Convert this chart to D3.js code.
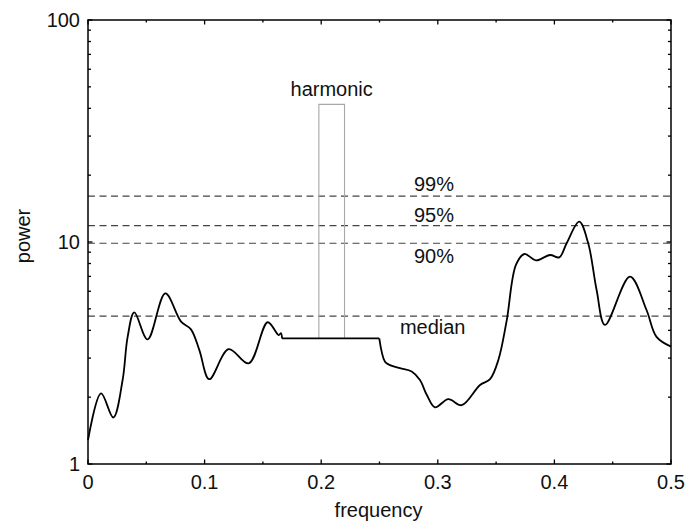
<!DOCTYPE html>
<html>
<head>
<meta charset="utf-8">
<script src="https://cdn.jsdelivr.net/npm/d3@7"></script>
<style>
  body { margin: 0; background: #fff; }
  text { font-family: "Liberation Sans", Arial, sans-serif; fill: #111; }
</style>
</head>
<body>
<svg id="chart"></svg>
<script>
// spectrum
const freq = [0, 0.0112, 0.0217, 0.0297, 0.034, 0.0397, 0.0511, 0.0663, 0.0798, 0.0883, 0.0955,
  0.104, 0.1206, 0.1378, 0.1541, 0.1635, 0.1655, 0.1664, 0.2498, 0.2547, 0.259, 0.2676, 0.2776,
  0.2847, 0.2905, 0.2976, 0.309, 0.3205, 0.3362, 0.3448, 0.352, 0.359, 0.367, 0.3742, 0.3842,
  0.3962, 0.4042, 0.4105, 0.4213, 0.429, 0.4362, 0.4434, 0.4648, 0.479, 0.4876, 0.5];
const power = [1.28, 2.08, 1.62, 2.39, 3.74, 4.82, 3.64, 5.87, 4.38, 4.04, 3.26,
  2.41, 3.29, 2.84, 4.35, 3.81, 3.88, 3.68, 3.68, 2.89, 2.79, 2.70, 2.61,
  2.39, 2.05, 1.80, 1.96, 1.84, 2.27, 2.41, 2.95, 4.4, 7.88, 8.83, 8.27,
  8.74, 8.53, 9.87, 12.35, 9.87, 6.08, 4.23, 6.98, 4.94, 3.74, 3.38];

// significance levels
const levelNames = ["99%", "95%", "90%", "median"];
const levelValues = [16.1, 11.84, 9.87, 4.64];

// harmonic box
const harmonicRange = [0.198, 0.22];
const harmonicTop = 41.7;
const harmonicBase = 3.68;

const xTicks = [0, 0.1, 0.2, 0.3, 0.4, 0.5];
const yTicks = [1, 10, 100];

const width = 686, height = 524;
const margin = {top: 20, right: 15, bottom: 60, left: 88};
const fs = 20;

const svg = d3.select("#chart").attr("width", width).attr("height", height);

const x = d3.scaleLinear().domain([0, 0.5]).range([margin.left, width - margin.right]);
const y = d3.scaleLog().domain([1, 100]).range([height - margin.bottom, margin.top]);

const x0 = x.range()[0], x1 = x.range()[1];
const yB = y.range()[0], yT = y.range()[1];

// dashed levels
svg.selectAll(".level")
  .data(levelValues)
  .enter().append("line")
  .attr("x1", x0).attr("x2", x1)
  .attr("y1", d => y(d)).attr("y2", d => y(d))
  .attr("stroke", "#444")
  .attr("stroke-width", 1.2)
  .attr("stroke-dasharray", "7,4.5");

// level labels
const labelPos = [
  {x: 0.2795, dy: -5},
  {x: 0.2795, dy: -4},
  {x: 0.2795, dy: 20},
  {x: 0.2675, dy: 18}
];
svg.selectAll(".lvlabel")
  .data(levelNames)
  .enter().append("text")
  .attr("x", (d, i) => x(labelPos[i].x))
  .attr("y", (d, i) => y(levelValues[i]) + labelPos[i].dy)
  .attr("font-size", fs)
  .text(d => d);

// harmonic box (open at the bottom)
svg.append("path")
  .attr("d", `M${x(harmonicRange[0])},${y(harmonicBase)}V${y(harmonicTop)}H${x(harmonicRange[1])}V${y(harmonicBase)}`)
  .attr("fill", "none")
  .attr("stroke", "#a8a8a8")
  .attr("stroke-width", 1.1);
svg.append("text")
  .attr("x", x((harmonicRange[0] + harmonicRange[1]) / 2))
  .attr("y", y(harmonicTop) - 8)
  .attr("text-anchor", "middle")
  .attr("font-size", fs)
  .text("harmonic");

// spectrum line: smooth pieces either side of the flat (harmonic-removed) stretch
const pts = freq.map((f, i) => [f, power[i]]);
const smooth = d3.line().x(d => x(d[0])).y(d => y(d[1])).curve(d3.curveCatmullRom.alpha(0.5));
const straight = d3.line().x(d => x(d[0])).y(d => y(d[1]));
const pieces = [
  [smooth, pts.slice(0, 18)],
  [straight, pts.slice(17, 19)],
  [smooth, pts.slice(18)]
];
svg.selectAll(".spec")
  .data(pieces)
  .enter().append("path")
  .attr("d", d => d[0](d[1]))
  .attr("fill", "none")
  .attr("stroke", "#000")
  .attr("stroke-width", 1.8)
  .attr("stroke-linejoin", "round");

// frame
svg.append("rect")
  .attr("x", x0).attr("y", yT)
  .attr("width", x1 - x0).attr("height", yB - yT)
  .attr("fill", "none")
  .attr("stroke", "#000")
  .attr("stroke-width", 1.5);

// x ticks (bottom and top, inward)
const xMinor = d3.range(0.05, 0.5, 0.1);
[[yB, -1], [yT, 1]].forEach(([yy, dir]) => {
  svg.selectAll(null).data(xTicks).enter().append("line")
    .attr("x1", d => x(d)).attr("x2", d => x(d))
    .attr("y1", yy).attr("y2", yy + dir * 4.5)
    .attr("stroke", "#000").attr("stroke-width", 1.3);
  svg.selectAll(null).data(xMinor).enter().append("line")
    .attr("x1", d => x(d)).attr("x2", d => x(d))
    .attr("y1", yy).attr("y2", yy + dir * 2.5)
    .attr("stroke", "#000").attr("stroke-width", 1.3);
});

// y ticks (left and right, inward)
const yMinor = [];
[1, 10].forEach(b => d3.range(2, 10).forEach(k => yMinor.push(b * k)));
[[x0, 1], [x1, -1]].forEach(([xx, dir]) => {
  svg.selectAll(null).data(yTicks).enter().append("line")
    .attr("x1", xx).attr("x2", xx + dir * 4.5)
    .attr("y1", d => y(d)).attr("y2", d => y(d))
    .attr("stroke", "#000").attr("stroke-width", 1.3);
  svg.selectAll(null).data(yMinor).enter().append("line")
    .attr("x1", xx).attr("x2", xx + dir * 3)
    .attr("y1", d => y(d)).attr("y2", d => y(d))
    .attr("stroke", "#000").attr("stroke-width", 1.3);
});

// tick labels
svg.selectAll(".xl").data(xTicks).enter().append("text")
  .attr("x", d => x(d))
  .attr("y", yB + 25)
  .attr("text-anchor", "middle")
  .attr("font-size", fs)
  .text(d => d === 0 ? "0" : d3.format(".1f")(d));

svg.selectAll(".yl").data(yTicks).enter().append("text")
  .attr("x", x0 - 8)
  .attr("y", d => y(d) + 7)
  .attr("text-anchor", "end")
  .attr("font-size", fs)
  .text(d => d);

// axis titles
svg.append("text")
  .attr("x", (x0 + x1) / 2 - 1)
  .attr("y", 517)
  .attr("text-anchor", "middle")
  .attr("font-size", fs)
  .text("frequency");

svg.append("text")
  .attr("transform", "translate(30,236) rotate(-90)")
  .attr("text-anchor", "middle")
  .attr("font-size", fs)
  .text("power");
</script>
</body>
</html>
